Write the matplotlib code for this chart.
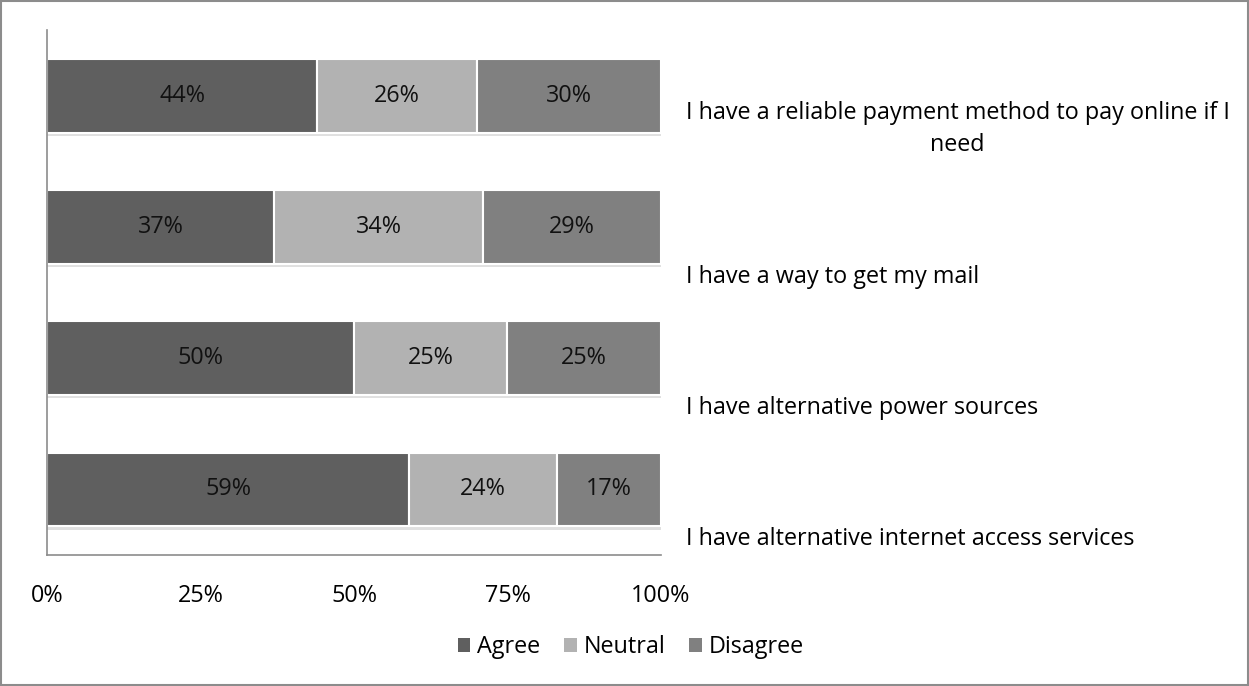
import matplotlib.pyplot as plt
import matplotlib.patheffects as pe
from matplotlib.patches import Patch
from matplotlib.transforms import blended_transform_factory

# survey statements, bottom to top
statements = [
    "I have alternative internet access services",
    "I have alternative power sources",
    "I have a way to get my mail",
    "I have a reliable payment method to pay online if I\nneed",
]
agree = [59, 50, 37, 44]
neutral = [24, 25, 34, 26]
disagree = [17, 25, 29, 30]

series = [("Agree", agree, "#5f5f5f"),
          ("Neutral", neutral, "#b2b2b2"),
          ("Disagree", disagree, "#808080")]

plt.rcParams["font.family"] = ["Open Sans", "DejaVu Sans"]
FS = 16.8

fig = plt.figure(figsize=(12.49, 6.86), dpi=100)
ax = fig.add_axes([0.0376, 0.191, 0.4916, 0.765])

shadow = [pe.SimplePatchShadow(offset=(0, -2.5), shadow_rgbFace="#999999", alpha=0.3), pe.Normal()]

ypos = list(range(len(statements)))
left = [0] * len(statements)
for name, vals, color in series:
    bars = ax.barh(ypos, vals, left=left, height=0.56, color=color,
                   edgecolor="white", linewidth=1.5)
    for b in bars:
        b.set_path_effects(shadow)
    for y, v, l in zip(ypos, vals, left):
        ax.text(l + v / 2, y, f"{v}%", ha="center", va="center",
                fontsize=FS, color="#111111")
    left = [l + v for l, v in zip(left, vals)]

ax.set_xlim(0, 100)
ax.set_ylim(-0.5, 3.5)
ax.set_xticks([0, 25, 50, 75, 100])
ax.set_xticklabels(["0%", "25%", "50%", "75%", "100%"], fontsize=FS)
ax.tick_params(axis="x", length=0, pad=21)
ax.set_yticks([])

for side in ("top", "right"):
    ax.spines[side].set_visible(False)
for side in ("left", "bottom"):
    ax.spines[side].set_color("#8c8c8c")
    ax.spines[side].set_linewidth(1.2)

# statement labels sit to the right of the bars
tr = blended_transform_factory(ax.transAxes, ax.transData)
for y, s in zip(ypos, statements):
    ax.text(1.04, y - 0.47, s, transform=tr, ha="left", va="bottom",
            fontsize=FS, multialignment="center", linespacing=1.45,
            clip_on=False)

handles = [Patch(facecolor=c, label=n) for n, _, c in series]
fig.legend(handles=handles, loc="center", bbox_to_anchor=(0.505, 0.057),
           ncol=3, frameon=False, fontsize=FS, handlelength=0.55,
           handleheight=0.55, handletextpad=0.3, columnspacing=1.0)

# thin frame around the whole chart
fig.patches.append(plt.Rectangle((0.0008, 0.0015), 0.9984, 0.997, transform=fig.transFigure,
                                 fill=False, edgecolor="#8c8c8c", linewidth=1.5))

fig.savefig("out.png", dpi=100)
